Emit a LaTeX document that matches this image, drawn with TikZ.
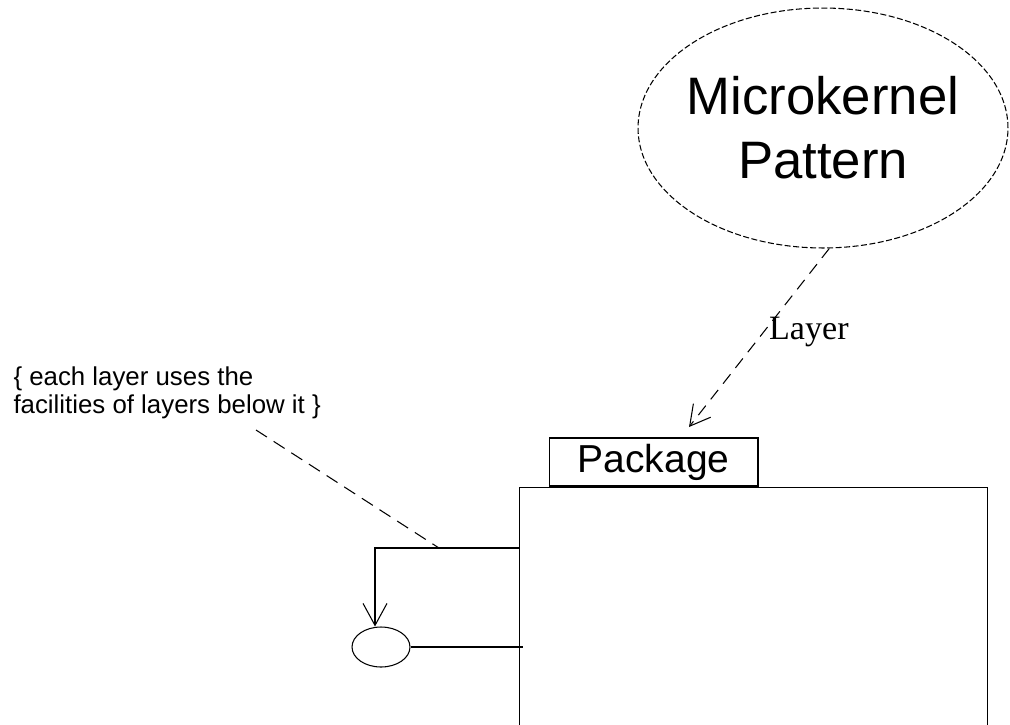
\documentclass[tikz,border=0pt]{standalone}
\usepackage{fontspec}
\setmainfont{Liberation Sans}
\newfontfamily\serifface{Liberation Serif}
\usetikzlibrary{positioning,shapes.geometric,arrows.meta}

\begin{document}
\begin{tikzpicture}[x=0.02cm, y=-0.02cm, line width=0.6pt,
    pattern/.style={ellipse, draw, dash pattern=on 0.12cm off 0.05cm, inner sep=-1cm, minimum width=7.4cm, minimum height=4.8cm, align=center, font=\fontsize{30}{36.4}\selectfont},
    usecase/.style={ellipse, draw, minimum width=1.16cm, minimum height=0.8cm, inner sep=0pt},
    tabbox/.style={rectangle, draw, minimum width=4.18cm, minimum height=0.96cm, inner sep=0pt, font=\fontsize{22.2}{26}\selectfont},
    pkgbox/.style={rectangle, draw, minimum width=9.38cm, minimum height=6.28cm},
    note/.style={align=left, inner sep=0pt, anchor=north west, font=\fontsize{14.7}{15.9}\selectfont},
    dep/.style={dash pattern=on 0.24cm off 0.16cm, -{Straight Barb[length=0.4cm,width=0.44cm]}},
    arrow/.style={-{Straight Barb[length=0.44cm,width=0.48cm]}}]

\useasboundingbox (0,0) rectangle (1010,724);
\clip (0,0) rectangle (1010,724);

\node [pattern] (micro) at (823,128) {Microkernel\\Pattern};

\node [tabbox] (tab) at (653.5,462) {Package};

\node [pkgbox, anchor=north west] (pkg) at ([xshift=-0.6cm]tab.south west) {};

\node [usecase] (layer) at (381,647) {};

\node [note] (rule) at (13,366) {\{ each layer uses the\\facilities of layers below it \}};

\coordinate (bend) at (375,548);
\coordinate (hit) at (439,548);
\coordinate (ruletail) at (256,430);
\coordinate (tip) at (689,427);

\draw [dep] (micro.-87) -- node[pos=0.47, anchor=west, inner sep=3pt, font=\serifface\fontsize{19.4}{22}\selectfont] (lbl) {Layer} (tip);
\draw [arrow] (pkg.west |- bend) -- (bend) -- (layer.north -| bend);
\draw (layer.east) -- ([xshift=0.08cm]pkg.west |- layer.east);
\draw [dash pattern=on 0.26cm off 0.16cm] (ruletail) -- (hit);

\end{tikzpicture}
\end{document}
